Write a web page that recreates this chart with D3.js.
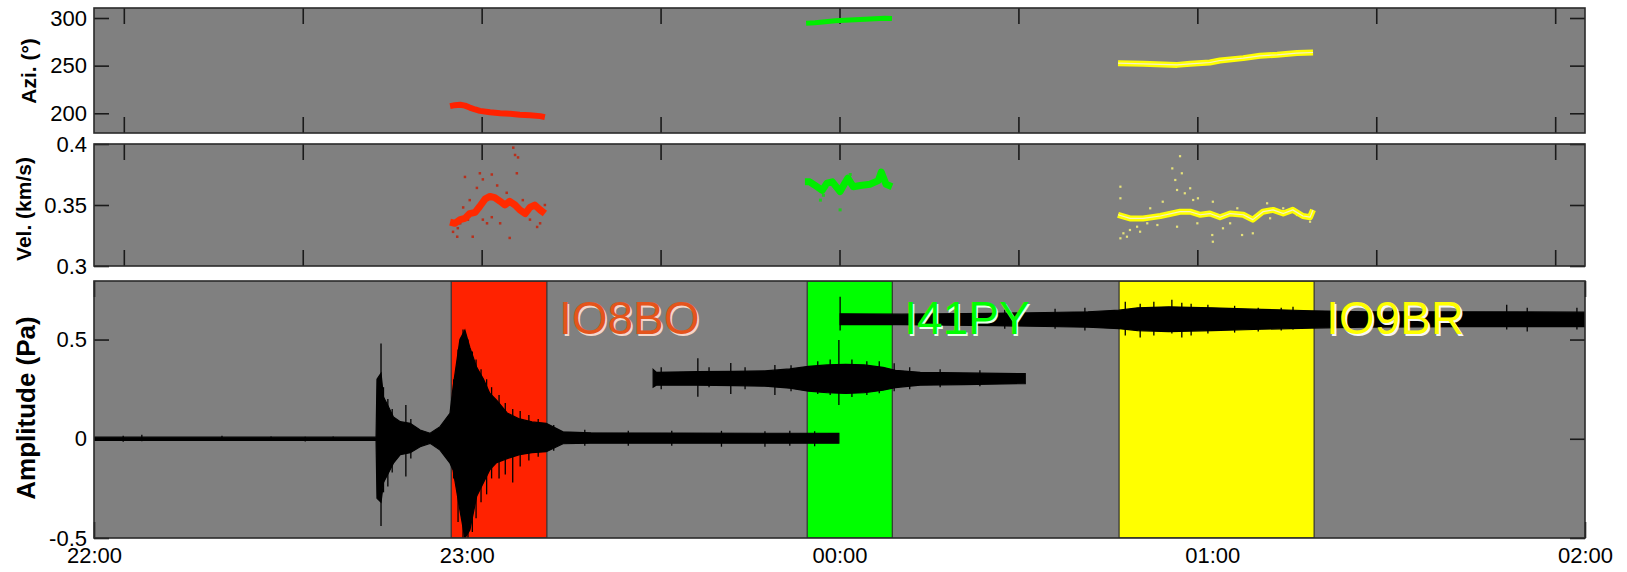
<!DOCTYPE html>
<html>
<head>
<meta charset="utf-8">
<script src="https://cdn.jsdelivr.net/npm/d3@7"></script>
<style>
  body { margin: 0; background: #fff; }
  svg { display: block; font-family: "Liberation Sans", Arial, sans-serif; }
</style>
</head>
<body>
<svg id="chart" width="1627" height="572"></svg>
<script>
// all times are minutes after 22:00
const hourTicks = [0, 60, 120, 180, 240];
const hourLabels = ["22:00", "23:00", "00:00", "01:00", "02:00"];
const halfHourTicks = [0, 30, 60, 90, 120, 150, 180, 210, 240];
const aziTicks = [200, 250, 300];
const velTicks = [0.3, 0.35, 0.4];
const ampTicks = [-0.5, 0, 0.5];

const stations = ["IO8BO", "I41PY", "IO9BR"];
const windowStart = [57.5, 114.8, 165.0];
const windowEnd = [72.9, 128.5, 196.4];

// azimuth / velocity detections [minute, value]
const redAzi = [[54.7,207.5],[55.5,208.5],[56.4,209],[57.2,208],[58.0,206],[58.9,204],[59.7,202.5],[61.4,201],[63.1,200],[64.8,199.5],[66.4,198.5],[68.1,198],[69.8,197],[70.6,196]];
const greenAzi = [[114.4,294.5],[115.9,295],[117.6,296.1],[119.3,297.2],[120.9,297.7],[122.6,298.2],[124.3,298.7],[125.9,299.3],[127.6,299.8],[128.8,299.5]];
const yellowAzi = [[166.7,252.6],[170.9,251.9],[176.6,250.8],[178.8,251.9],[182.1,253.3],[183.8,255.4],[187.7,257.9],[190.5,260.3],[193.4,261.4],[196.7,263.2],[199.4,263.8]];

const redVel = [[54.7,0.336],[55.5,0.335],[56.4,0.338],[57.2,0.339],[58.0,0.343],[58.9,0.344],[59.7,0.349],[60.6,0.355],[61.4,0.357],[62.2,0.356],[63.1,0.353],[63.9,0.350],[64.7,0.353],[65.6,0.350],[66.4,0.346],[67.3,0.343],[68.1,0.348],[68.9,0.350],[69.8,0.346],[70.6,0.343]];
const redVelDots = [[65.3,0.397],[65.6,0.391],[66.1,0.389],[57.2,0.373],[59.7,0.376],[60.2,0.371],[61.7,0.375],[62.6,0.366],[59.2,0.364],[58.0,0.354],[56.9,0.348],[56.4,0.335],[55.9,0.324],[58.5,0.324],[64.7,0.323],[69.8,0.335],[70.6,0.350],[63.1,0.335],[60.2,0.338],[61.7,0.340],[64.2,0.360],[66.9,0.354],[68.1,0.338],[69.3,0.332],[60.9,0.335],[59.7,0.348],[57.7,0.338],[65.9,0.376],[55.2,0.328],[56.0,0.331]];
const greenVel = [[114.2,0.369],[115.0,0.369],[115.9,0.366],[117.1,0.362],[117.9,0.368],[118.8,0.369],[120.1,0.361],[120.9,0.368],[121.4,0.372],[122.3,0.365],[123.5,0.366],[125.1,0.367],[126.5,0.370],[127.0,0.377],[127.8,0.367],[128.8,0.365]];
const greenVelDots = [[116.8,0.354],[120.1,0.346],[121.8,0.375],[117.3,0.358]];
const yellowVel = [[166.7,0.342],[168.7,0.339],[170.9,0.339],[173.8,0.341],[177.1,0.3445],[178.8,0.3445],[180.5,0.342],[182.1,0.343],[183.8,0.340],[185.5,0.343],[187.7,0.342],[189.3,0.338],[191.0,0.3445],[192.7,0.346],[194.4,0.343],[196.0,0.346],[197.7,0.341],[198.9,0.340],[199.4,0.346]];
const yellowVelDots = [[177.1,0.390],[175.8,0.380],[177.4,0.376],[176.3,0.3705],[176.6,0.3623],[177.9,0.3596],[178.8,0.3637],[179.3,0.3541],[180.1,0.3555],[167.1,0.365],[167.1,0.3555],[174.2,0.3527],[172.1,0.3473],[182.6,0.3527],[167.6,0.3268],[168.7,0.3295],[169.9,0.3322],[171.6,0.335],[173.3,0.3336],[182.5,0.3254],[182.6,0.3199],[187.5,0.3254],[184.3,0.3309],[189.3,0.3268],[191.7,0.3514],[194.4,0.3473],[198.9,0.3363],[167.1,0.3227],[168.2,0.324],[170.4,0.3281],[176.6,0.3322],[180.0,0.335],[185.5,0.335],[186.7,0.3473],[192.2,0.3391],[196.7,0.3418]];

// waveform body envelopes [minute, upper Pa, lower Pa]
const trace1 = [[0,0.008,-0.008],[45.4,0.008,-0.008],[45.55,0.30,-0.30],[46.2,0.33,-0.32],[46.6,0.21,-0.22],[47.1,0.18,-0.19],[48.2,0.11,-0.123],[49.3,0.086,-0.08],[50.9,0.078,-0.07],[52.5,0.044,-0.04],[54.1,0.028,-0.023],[55.7,0.061,-0.057],[57.3,0.128,-0.123],[57.8,0.26,-0.157],[58.9,0.50,-0.36],[59.7,0.548,-0.50],[60.5,0.46,-0.46],[61.6,0.36,-0.29],[62.7,0.30,-0.22],[63.7,0.23,-0.157],[64.8,0.195,-0.12],[66.5,0.13,-0.10],[68.5,0.10,-0.08],[70.5,0.085,-0.07],[72.8,0.078,-0.065],[75.5,0.035,-0.025],[80,0.03,-0.022],[119.9,0.027,-0.022]];
const trace2 = [[90.0,0.35,0.26],[90.5,0.335,0.27],[97,0.338,0.27],[103,0.34,0.268],[108,0.342,0.265],[112,0.352,0.255],[115,0.365,0.24],[118,0.372,0.232],[121,0.375,0.228],[124,0.372,0.232],[127,0.36,0.245],[129,0.345,0.258],[133,0.335,0.27],[140,0.332,0.273],[149.9,0.328,0.278]];
const trace3 = [[120.1,0.63,0.575],[130,0.628,0.575],[145,0.632,0.57],[160,0.64,0.562],[165,0.648,0.555],[168,0.66,0.545],[173,0.665,0.54],[180,0.66,0.545],[188,0.652,0.552],[196,0.645,0.558],[205,0.64,0.563],[220,0.64,0.565],[240,0.638,0.565]];

// individual spikes sticking out of the envelopes [minute, top Pa, bottom Pa]
const trace1Spikes = [[4.7,0.015,-0.015],[7.7,0.02,-0.012],[20.6,0.015,-0.008],[28.5,0.012,-0.01],[34.0,0.01,-0.014],[38.5,0.012,-0.01],[46.2,0.48,-0.44],[46.6,0.26,-0.27],[47.3,0.20,-0.24],[48.0,0.15,-0.17],[50.2,0.17,-0.19],[51.0,0.10,-0.10],[57.9,0.30,-0.20],[58.6,0.45,-0.42],[59.4,0.55,-0.50],[60.2,0.50,-0.50],[60.9,0.44,-0.47],[61.5,0.40,-0.40],[62.3,0.35,-0.32],[63.2,0.30,-0.28],[64.0,0.26,-0.20],[65.2,0.22,-0.20],[66.2,0.18,-0.18],[67.4,0.15,-0.22],[68.6,0.14,-0.14],[70.0,0.12,-0.11],[71.5,0.10,-0.09],[74.0,0.07,-0.06],[79,0.045,-0.035],[86,0.04,-0.035],[93,0.04,-0.035],[101,0.04,-0.04],[108,0.038,-0.04],[112,0.04,-0.035],[116,0.038,-0.038]];
const trace2Spikes = [[91.3,0.36,0.25],[97.2,0.406,0.212],[99.0,0.36,0.26],[102.5,0.382,0.225],[104.8,0.36,0.25],[109.6,0.372,0.22],[112.2,0.37,0.24],[116.5,0.39,0.225],[118.5,0.40,0.22],[119.9,0.498,0.17],[122.0,0.40,0.21],[124.4,0.39,0.22],[126.4,0.39,0.23],[128.8,0.38,0.24],[131.3,0.36,0.25],[136.2,0.35,0.26],[142.6,0.345,0.265]];
const trace3Spikes = [[120.1,0.716,0.546],[139.3,0.65,0.56],[146.6,0.65,0.555],[154.7,0.655,0.555],[159.5,0.66,0.545],[166.0,0.69,0.52],[168.4,0.68,0.51],[170.6,0.69,0.52],[173.5,0.70,0.53],[175.1,0.685,0.51],[176.6,0.68,0.52],[179.3,0.675,0.53],[183.6,0.67,0.535],[187.4,0.66,0.54],[191.1,0.66,0.545],[193.0,0.665,0.55],[202.0,0.655,0.545],[205.2,0.66,0.55],[209.0,0.65,0.55],[227.4,0.675,0.55],[230.7,0.66,0.54],[238.7,0.66,0.55]];

const svg = d3.select('#chart');
const left = 94, right = 1585;
const bandFill = ['#ff2200', '#00ff00', '#ffff00'];
const textFill = ['#e4541c', '#00ff00', '#ffff00'];
const shadowFill = ['#f3d8cc', '#e8ffe8', '#f4f4f4'];

// top two panels use a slightly wider time window than the waveform panel
const xTop = d3.scaleLinear().domain([-5, 245]).range([left, right]);
const xBot = d3.scaleLinear().domain([0, 240]).range([left, right]);
const yAzi = d3.scaleLinear().domain([179.3, 310.5]).range([133, 8]);
const yVel = d3.scaleLinear().domain([0.3, 0.4]).range([266, 144]);
const yAmp = d3.scaleLinear().domain([-0.5, 0.795]).range([538, 281]);

function styleAxis(g, fontSize) {
    g.select('.domain').remove();
    g.selectAll('.tick line').attr('stroke', '#1a1a1a').attr('stroke-width', 1.6);
    g.selectAll('.tick text').attr('font-size', fontSize).attr('fill', '#000')
        .attr('font-family', '"Liberation Sans", Arial, sans-serif');
}

function panel(id, x, y, yTicks, xTicks, xLabels) {
    const [y0, y1] = y.range();
    const g = svg.append('g').attr('id', id);
    g.append('rect')
        .attr('x', left).attr('y', y1)
        .attr('width', right - left).attr('height', y0 - y1)
        .attr('fill', '#808080');
    g.append('clipPath').attr('id', id + '-clip')
        .append('rect')
        .attr('x', left).attr('y', y1)
        .attr('width', right - left).attr('height', y0 - y1);

    const ticks = g.append('g');
    ticks.append('g').attr('transform', `translate(${left},0)`)
        .call(d3.axisLeft(y).tickValues(yTicks).tickSize(-15).tickPadding(7).tickFormat(d => String(d)))
        .call(styleAxis, '22px');
    ticks.append('g').attr('transform', `translate(${right},0)`)
        .call(d3.axisRight(y).tickValues(yTicks).tickSize(-15).tickFormat(''))
        .call(styleAxis, '22px');
    ticks.append('g').attr('transform', `translate(0,${y1})`)
        .call(d3.axisTop(x).tickValues(xTicks).tickSize(-16).tickFormat(''))
        .call(styleAxis, '22px');
    const bottom = ticks.append('g').attr('transform', `translate(0,${y0})`)
        .call(d3.axisBottom(x).tickValues(xTicks).tickSize(-16).tickPadding(9)
            .tickFormat((d, i) => xLabels ? xLabels[i] : ''))
        .call(styleAxis, '22px');
    bottom.selectAll('.tick text').attr('y', 9);

    const content = g.append('g').attr('clip-path', `url(#${id}-clip)`);
    const frame = () => g.append('rect')
        .attr('x', left).attr('y', y1)
        .attr('width', right - left).attr('height', y0 - y1)
        .attr('fill', 'none').attr('stroke', '#2a2a2a').attr('stroke-width', 1.6);
    return { g, content, frame };
}

function yTitle(text, x, y, size) {
    svg.append('text')
        .attr('transform', `translate(${x},${y}) rotate(-90)`)
        .attr('text-anchor', 'middle')
        .attr('font-size', size)
        .attr('font-weight', 'bold')
        .text(text);
}

function band(content, data, y, color, width) {
    content.append('path')
        .datum(data)
        .attr('fill', 'none')
        .attr('stroke', color)
        .attr('stroke-width', width)
        .attr('stroke-linejoin', 'round')
        .attr('d', d3.line().x(d => xTop(d[0])).y(d => y(d[1])));
}

function dots(content, data, y, color, size) {
    content.selectAll(null)
        .data(data)
        .enter()
        .append('rect')
        .attr('x', d => xTop(d[0]) - size / 2)
        .attr('y', d => y(d[1]) - size / 2)
        .attr('width', size).attr('height', size)
        .attr('fill', color);
}

// azimuth panel
const pAzi = panel('azi', xTop, yAzi, aziTicks, halfHourTicks, null);
band(pAzi.content, redAzi, yAzi, '#ff2200', 6);
band(pAzi.content, greenAzi, yAzi, '#00ee00', 5);
band(pAzi.content, yellowAzi, yAzi, '#ffff00', 6);
band(pAzi.content, yellowAzi, yAzi, '#f4f0c8', 1.2);
pAzi.frame();

// velocity panel
const pVel = panel('vel', xTop, yVel, velTicks, halfHourTicks, null);
dots(pVel.content, redVelDots, yVel, '#b8301c', 2.5);
band(pVel.content, redVel, yVel, '#ff2a00', 7);
band(pVel.content, greenVel, yVel, '#00ee00', 7);
dots(pVel.content, greenVelDots, yVel, '#22cc22', 3);
dots(pVel.content, yellowVelDots, yVel, '#e6e27a', 2.2);
band(pVel.content, yellowVel, yVel, '#ffff00', 6);
band(pVel.content, yellowVel, yVel, '#f4f0c8', 1.2);
pVel.frame();

// waveform panel
const pAmp = panel('amp', xBot, yAmp, ampTicks, hourTicks, hourLabels);
pAmp.content.selectAll('.window')
    .data(stations)
    .enter()
    .append('rect')
    .attr('class', 'window')
    .attr('x', (d, i) => xBot(windowStart[i]))
    .attr('y', yAmp.range()[1])
    .attr('width', (d, i) => xBot(windowEnd[i]) - xBot(windowStart[i]))
    .attr('height', yAmp.range()[0] - yAmp.range()[1])
    .attr('fill', (d, i) => bandFill[i])
    .attr('stroke', '#333')
    .attr('stroke-width', 1.2);

const envelope = d3.area()
    .x(d => xBot(d[0]))
    .y0(d => yAmp(d[2]))
    .y1(d => yAmp(d[1]));
pAmp.content.selectAll('.trace')
    .data([trace1, trace2, trace3])
    .enter()
    .append('path')
    .attr('class', 'trace')
    .attr('fill', '#000')
    .attr('stroke', '#000')
    .attr('stroke-width', 1.2)
    .attr('d', envelope);

pAmp.content.selectAll('.spike')
    .data([].concat(trace1Spikes, trace2Spikes, trace3Spikes))
    .enter()
    .append('line')
    .attr('class', 'spike')
    .attr('x1', d => xBot(d[0])).attr('x2', d => xBot(d[0]))
    .attr('y1', d => yAmp(d[1])).attr('y2', d => yAmp(d[2]))
    .attr('stroke', '#000')
    .attr('stroke-width', 1.3);

stations.forEach((name, i) => {
    const tx = xBot(windowEnd[i]) + 12;
    pAmp.g.append('text')
        .attr('x', tx + 1.5).attr('y', 335.5)
        .attr('font-size', '46px')
        .attr('fill', shadowFill[i])
        .text(name);
    pAmp.g.append('text')
        .attr('x', tx).attr('y', 334)
        .attr('font-size', '46px')
        .attr('fill', textFill[i])
        .text(name);
});
pAmp.frame();

yTitle('Azi. (°)', 35.5, 71, '21px');
yTitle('Vel. (km/s)', 30.5, 209, '21px');
yTitle('Amplitude (Pa)', 34.5, 408, '26px');
</script>
</body>
</html>
